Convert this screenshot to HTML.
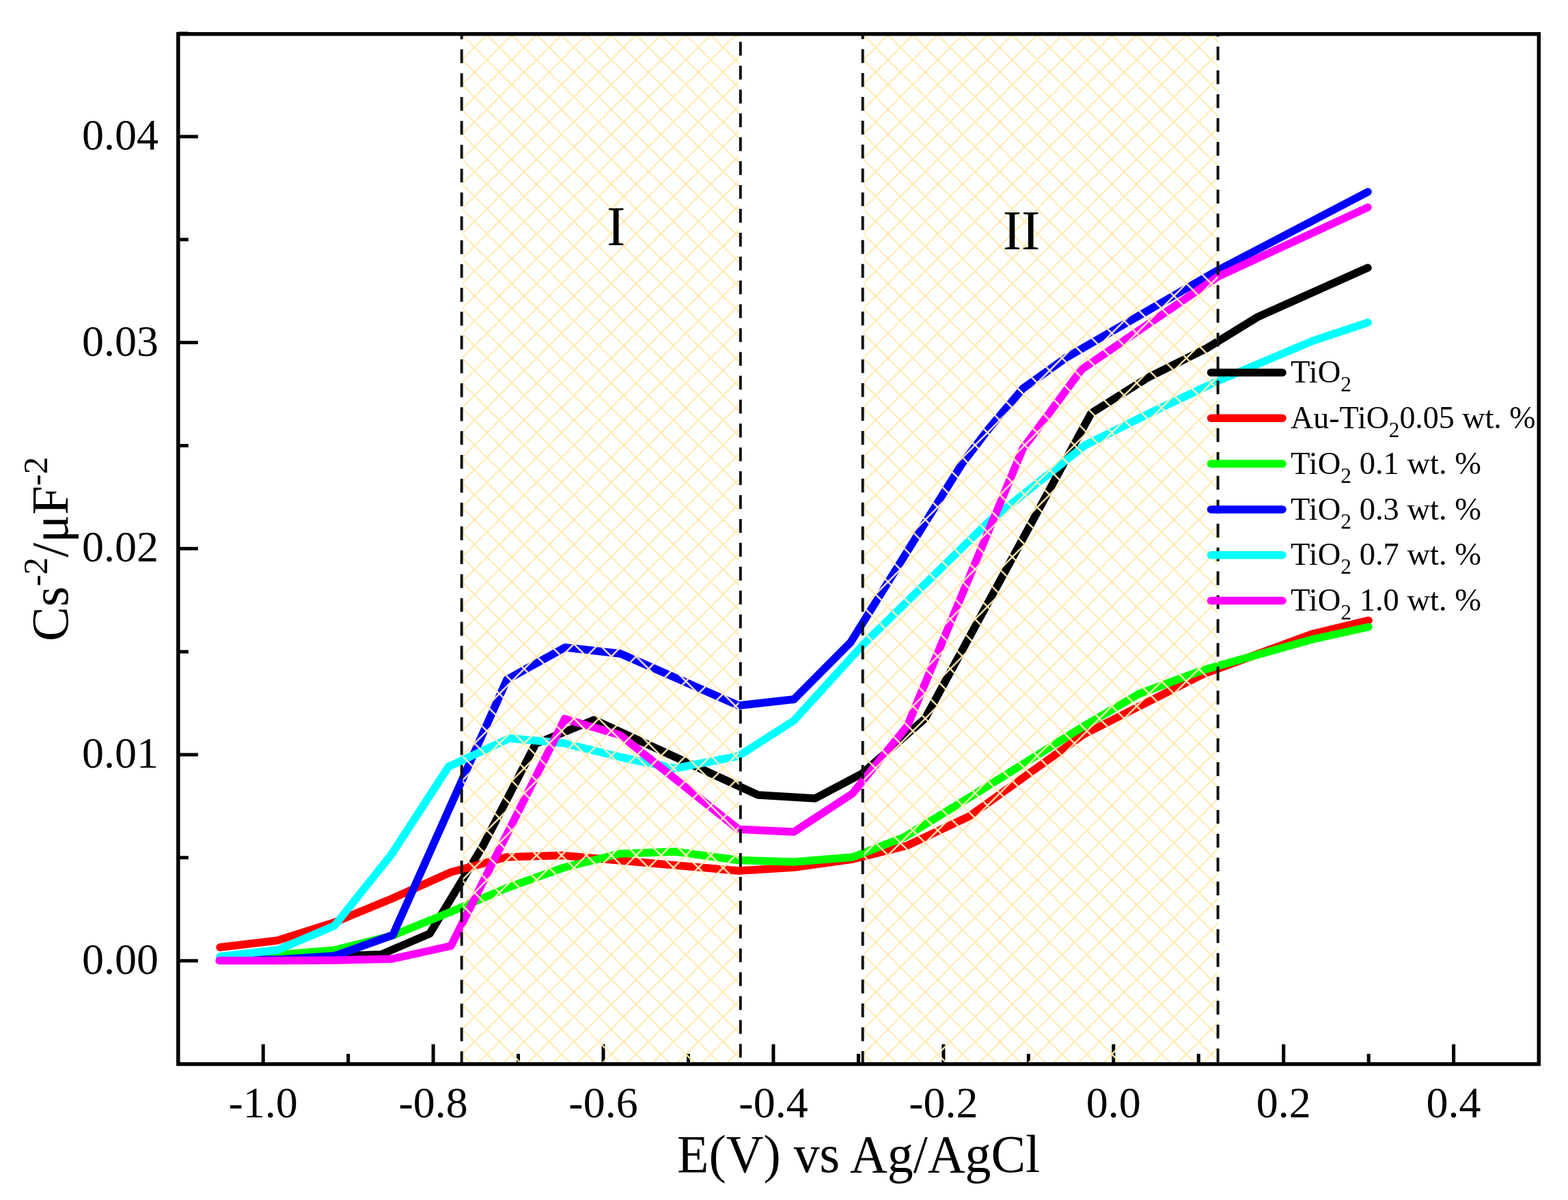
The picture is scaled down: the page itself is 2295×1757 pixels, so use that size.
<!DOCTYPE html><html><head><meta charset="utf-8"><title>Mott-Schottky plot</title><style>html,body{margin:0;padding:0;background:#fff;}svg{display:block;}</style></head><body><svg width="2295" height="1757" viewBox="0 0 2295 1757">
<defs>
<pattern id="h1" patternUnits="userSpaceOnUse" width="36.4" height="36.4" patternTransform="translate(2.90,32.90)"><path d="M-36.4,-36.4 L72.8,72.8 M-36.4,0 L36.4,72.8 M0,-36.4 L72.8,36.4 M-36.4,72.8 L72.8,-36.4 M-36.4,36.4 L36.4,-36.4 M0,72.8 L72.8,0" stroke="#ffecb6" stroke-width="2.4" fill="none"/></pattern>
<pattern id="h2" patternUnits="userSpaceOnUse" width="36.4" height="36.4" patternTransform="translate(7.50,32.90)"><path d="M-36.4,-36.4 L72.8,72.8 M-36.4,0 L36.4,72.8 M0,-36.4 L72.8,36.4 M-36.4,72.8 L72.8,-36.4 M-36.4,36.4 L36.4,-36.4 M0,72.8 L72.8,0" stroke="#ffecb6" stroke-width="2.4" fill="none"/></pattern>
</defs>
<rect width="2295" height="1757" fill="#fff"/>
<path d="M385.20,1558.0 V1529.0 M509.66,1558.0 V1543.0 M634.12,1558.0 V1529.0 M758.58,1558.0 V1543.0 M883.04,1558.0 V1529.0 M1007.50,1558.0 V1543.0 M1131.96,1558.0 V1529.0 M1256.42,1558.0 V1543.0 M1380.88,1558.0 V1529.0 M1505.34,1558.0 V1543.0 M1629.80,1558.0 V1529.0 M1754.26,1558.0 V1543.0 M1878.72,1558.0 V1529.0 M2003.18,1558.0 V1543.0 M2127.64,1558.0 V1529.0 M260.8,1406.70 H289.8 M260.8,1255.85 H275.8 M260.8,1105.00 H289.8 M260.8,954.15 H275.8 M260.8,803.30 H289.8 M260.8,652.45 H275.8 M260.8,501.60 H289.8 M260.8,350.75 H275.8 M260.8,199.90 H289.8 M260.8,49.05 H275.8" stroke="#000" stroke-width="5.0" fill="none"/>
<polyline points="322,1405 406,1404.5 490,1400 558,1397.5 629,1367 706,1240 784,1089 869.5,1054 1109.5,1164 1193,1169 1262,1132.5 1354,1052 1597,605 1680.5,552.7 1766,510 1841,464 2002,392" fill="none" stroke="#000000" stroke-width="11.5" stroke-linejoin="round" stroke-linecap="round"/>
<polyline points="322,1387 406,1377 488,1351 573,1316 660,1277 741,1255 822,1252.4 903,1259.5 1081,1275 1162,1270 1248,1258 1328,1238 1419,1195 1585,1076 1640,1048 1761,987 1921.5,928 2003,908.4" fill="none" stroke="#ff0000" stroke-width="11.5" stroke-linejoin="round" stroke-linecap="round"/>
<polyline points="322,1404 406,1398 489,1391.3 574,1370 660,1335 742,1300 826,1270 907,1250 988,1247 1081,1259.5 1162,1262 1248,1255 1323,1226 1428,1162 1585,1064 1667,1016 1761,981 1921.5,936 2003,918" fill="none" stroke="#00ff00" stroke-width="11.5" stroke-linejoin="round" stroke-linecap="round"/>
<polyline points="322,1405 406,1405 490,1399.5 575,1369 742,995 827,948 908,957 1081,1033 1162,1024 1245,940.5 1330,804 1408,679 1447,628 1497,569 1560,524 1782,396 2002,281" fill="none" stroke="#0000ff" stroke-width="11.5" stroke-linejoin="round" stroke-linecap="round"/>
<polyline points="322,1400.5 406,1391 489.5,1355.5 573,1251 656.4,1122.6 745.7,1081 824.3,1088 912.4,1109.5 988,1125 1081,1107 1162,1055 1264,943 1447,764 1588,652 1680.5,606 1782,558 1921.6,499 2002,472.3" fill="none" stroke="#00ffff" stroke-width="11.5" stroke-linejoin="round" stroke-linecap="round"/>
<polyline points="321,1406.5 406,1406.5 490,1406 574,1404 660,1385 826.7,1052.4 907.6,1076.2 1081,1214.3 1162,1218 1247.6,1162 1328,1063 1497,657 1583,541 1782,405.4 2002,303.6" fill="none" stroke="#ff00ff" stroke-width="11.5" stroke-linejoin="round" stroke-linecap="round"/>
<rect x="677.5" y="49.8" width="404.0" height="1508.2" fill="url(#h1)"/>
<rect x="1264.5" y="49.8" width="518.1" height="1508.2" fill="url(#h2)"/>
<line x1="675.7" y1="49.8" x2="675.7" y2="1558.0" stroke="#111" stroke-width="4.0" stroke-dasharray="20.2 14.73" stroke-dashoffset="12.47"/>
<line x1="1083.8" y1="49.8" x2="1083.8" y2="1558.0" stroke="#111" stroke-width="4.0" stroke-dasharray="20.2 14.73" stroke-dashoffset="23.40"/>
<line x1="1262.7" y1="49.8" x2="1262.7" y2="1558.0" stroke="#111" stroke-width="4.0" stroke-dasharray="20.2 14.73" stroke-dashoffset="12.67"/>
<line x1="1782.6" y1="49.8" x2="1782.6" y2="1558.0" stroke="#111" stroke-width="4.0" stroke-dasharray="20.2 14.73" stroke-dashoffset="16.60"/>
<line x1="1772.5" y1="545.5" x2="1877" y2="545.5" stroke="#000000" stroke-width="11.5" stroke-linecap="round"/>
<text x="1889" y="560.2" font-family="'Liberation Serif','Times New Roman',serif" font-size="46.5" fill="#000">TiO<tspan font-size="31.5" dy="13">2</tspan></text>
<line x1="1772.5" y1="612.3" x2="1877" y2="612.3" stroke="#ff0000" stroke-width="11.5" stroke-linecap="round"/>
<text x="1889" y="627.0" font-family="'Liberation Serif','Times New Roman',serif" font-size="46.5" fill="#000" transform="translate(1889,0) scale(0.988,1) translate(-1889,0)">Au-TiO<tspan font-size="31.5" dy="13">2</tspan><tspan dy="-13">0.05 wt. %</tspan></text>
<line x1="1772.5" y1="679.1" x2="1877" y2="679.1" stroke="#00ff00" stroke-width="11.5" stroke-linecap="round"/>
<text x="1889" y="693.8" font-family="'Liberation Serif','Times New Roman',serif" font-size="46.5" fill="#000">TiO<tspan font-size="31.5" dy="13">2</tspan><tspan dy="-13"> 0.1 wt. %</tspan></text>
<line x1="1772.5" y1="745.9" x2="1877" y2="745.9" stroke="#0000ff" stroke-width="11.5" stroke-linecap="round"/>
<text x="1889" y="760.6" font-family="'Liberation Serif','Times New Roman',serif" font-size="46.5" fill="#000">TiO<tspan font-size="31.5" dy="13">2</tspan><tspan dy="-13"> 0.3 wt. %</tspan></text>
<line x1="1772.5" y1="812.7" x2="1877" y2="812.7" stroke="#00ffff" stroke-width="11.5" stroke-linecap="round"/>
<text x="1889" y="827.4" font-family="'Liberation Serif','Times New Roman',serif" font-size="46.5" fill="#000">TiO<tspan font-size="31.5" dy="13">2</tspan><tspan dy="-13"> 0.7 wt. %</tspan></text>
<line x1="1772.5" y1="879.5" x2="1877" y2="879.5" stroke="#ff00ff" stroke-width="11.5" stroke-linecap="round"/>
<text x="1889" y="894.2" font-family="'Liberation Serif','Times New Roman',serif" font-size="46.5" fill="#000">TiO<tspan font-size="31.5" dy="13">2</tspan><tspan dy="-13"> 1.0 wt. %</tspan></text>
<rect x="260.8" y="49.8" width="1991.5000000000002" height="1508.2" fill="none" stroke="#000" stroke-width="5.5"/>
<text x="385.2" y="1636" font-family="'Liberation Serif','Times New Roman',serif" font-size="64" text-anchor="middle">-1.0</text>
<text x="634.1" y="1636" font-family="'Liberation Serif','Times New Roman',serif" font-size="64" text-anchor="middle">-0.8</text>
<text x="883.0" y="1636" font-family="'Liberation Serif','Times New Roman',serif" font-size="64" text-anchor="middle">-0.6</text>
<text x="1132.0" y="1636" font-family="'Liberation Serif','Times New Roman',serif" font-size="64" text-anchor="middle">-0.4</text>
<text x="1380.9" y="1636" font-family="'Liberation Serif','Times New Roman',serif" font-size="64" text-anchor="middle">-0.2</text>
<text x="1629.8" y="1636" font-family="'Liberation Serif','Times New Roman',serif" font-size="64" text-anchor="middle">0.0</text>
<text x="1878.7" y="1636" font-family="'Liberation Serif','Times New Roman',serif" font-size="64" text-anchor="middle">0.2</text>
<text x="2127.6" y="1636" font-family="'Liberation Serif','Times New Roman',serif" font-size="64" text-anchor="middle">0.4</text>
<text x="232" y="1425.7" font-family="'Liberation Serif','Times New Roman',serif" font-size="64" text-anchor="end">0.00</text>
<text x="232" y="1124.0" font-family="'Liberation Serif','Times New Roman',serif" font-size="64" text-anchor="end">0.01</text>
<text x="232" y="822.3" font-family="'Liberation Serif','Times New Roman',serif" font-size="64" text-anchor="end">0.02</text>
<text x="232" y="520.6" font-family="'Liberation Serif','Times New Roman',serif" font-size="64" text-anchor="end">0.03</text>
<text x="232" y="218.9" font-family="'Liberation Serif','Times New Roman',serif" font-size="64" text-anchor="end">0.04</text>
<text x="901.6" y="358.6" font-family="'Liberation Serif','Times New Roman',serif" font-size="82" text-anchor="middle">I</text>
<text x="1495" y="364.5" font-family="'Liberation Serif','Times New Roman',serif" font-size="82" text-anchor="middle">II</text>
<text x="1256.6" y="1716" font-family="'Liberation Serif','Times New Roman',serif" font-size="78" text-anchor="middle" transform="translate(1256.6,0) scale(0.9727,1) translate(-1256.6,0)">E(V) vs Ag/AgCl</text>
<text transform="translate(99,804) rotate(-90)" font-family="'Liberation Serif','Times New Roman',serif" font-size="76.5" text-anchor="middle">Cs<tspan font-size="51" dy="-30">-2</tspan><tspan dy="30">/μF</tspan><tspan font-size="51" dy="-30">-2</tspan></text>
</svg></body></html>
